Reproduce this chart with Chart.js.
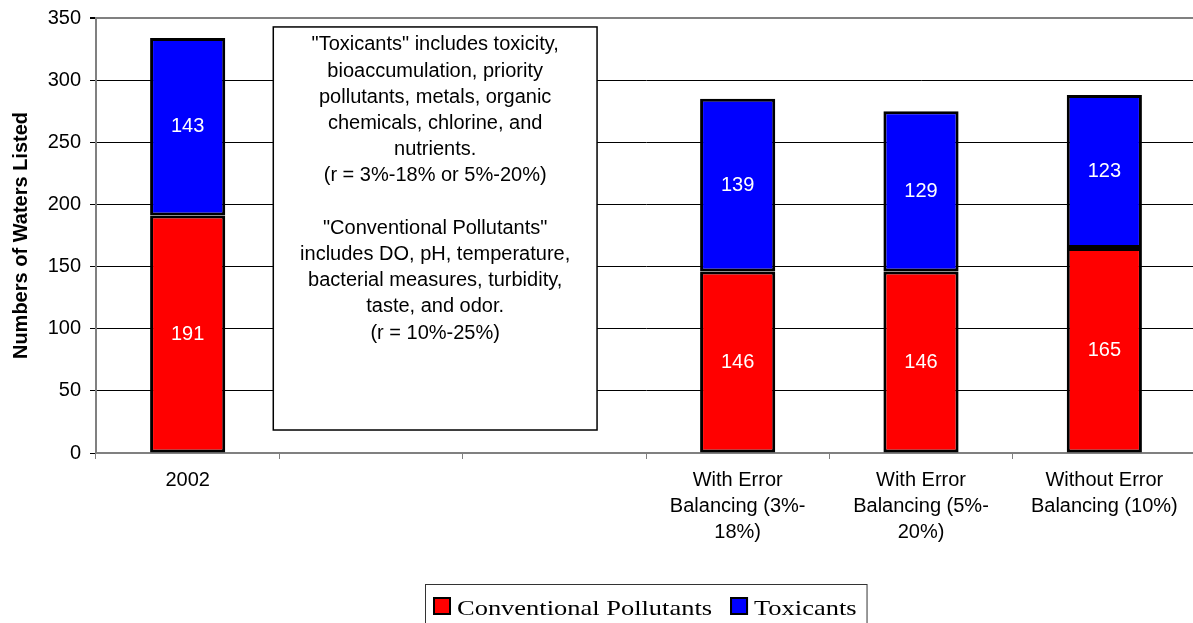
<!DOCTYPE html>
<html><head><meta charset="utf-8">
<script src="https://cdn.jsdelivr.net/npm/chart.js@4/dist/chart.umd.min.js"></script>
<style>html,body{margin:0;padding:0;overflow:hidden;background:#fff}</style>
</head><body>
<canvas id="c" width="1200" height="640" style="display:block"></canvas>
<script>
// ---- data ----
const categories = ['2002', '', '', ['With Error', 'Balancing (3%-', '18%)'], ['With Error', 'Balancing (5%-', '20%)'], ['Without Error', 'Balancing (10%)']];
const conventional = [191, null, null, 146, 146, 165];
const toxicants = [143, null, null, 139, 129, 123];
const seriesNames = ['Conventional Pollutants', 'Toxicants'];
const yMin = 0, yMax = 350, yStep = 50;
const yTitle = 'Numbers of Waters Listed';
const noteLines = [
  '"Toxicants" includes toxicity,',
  'bioaccumulation, priority',
  'pollutants, metals, organic',
  'chemicals, chlorine, and',
  'nutrients.',
  '(r = 3%-18% or 5%-20%)',
  '',
  '"Conventional Pollutants"',
  'includes DO, pH, temperature,',
  'bacterial measures, turbidity,',
  'taste, and odor.',
  '(r = 10%-25%)'
];

const SANS = '"Liberation Sans", Arial, sans-serif';
const SERIF = '"Liberation Serif", "Times New Roman", serif';

const valueLabels = {
  id: 'valueLabels',
  afterDatasetsDraw(chart) {
    const ctx = chart.ctx;
    ctx.save();
    ctx.fillStyle = '#fff';
    ctx.font = '20px ' + SANS;
    ctx.textAlign = 'center';
    ctx.textBaseline = 'middle';
    chart.data.datasets.forEach((ds, i) => {
      chart.getDatasetMeta(i).data.forEach((el, j) => {
        const v = ds.data[j];
        if (v == null) return;
        const c = el.getCenterPoint();
        ctx.fillText(String(v), c.x, c.y);
      });
    });
    ctx.restore();
  }
};

const noteBox = {
  id: 'noteBox',
  afterDatasetsDraw(chart, args, opts) {
    const x = chart.scales.x, y = chart.scales.y, ctx = chart.ctx;
    const l = x.getPixelForValue(opts.x0), r = x.getPixelForValue(opts.x1);
    const t = y.getPixelForValue(opts.y1), b = y.getPixelForValue(opts.y0);
    ctx.save();
    ctx.fillStyle = '#fff';
    ctx.fillRect(l, t, r - l, b - t);
    ctx.strokeStyle = '#000';
    ctx.lineWidth = 1.5;
    ctx.strokeRect(l, t, r - l, b - t);
    ctx.fillStyle = '#000';
    ctx.font = '20px ' + SANS;
    ctx.textAlign = 'center';
    ctx.textBaseline = 'middle';
    const cx = (l + r) / 2;
    opts.lines.forEach((s, i) => ctx.fillText(s, cx, t + 18 + i * 26.2));
    ctx.restore();
  }
};

const boxLegend = {
  id: 'boxLegend',
  afterDraw(chart, args, opts) {
    const ctx = chart.ctx;
    ctx.save();
    ctx.font = '21px ' + SERIF;
    const sx = 1.26;
    const left = opts.left, top = opts.top;
    let xx = left + 8;
    const items = chart.data.datasets.map(ds => ({ label: ds.label, color: ds.backgroundColor }));
    const positions = [];
    items.forEach((it) => {
      const w = ctx.measureText(it.label).width * sx;
      positions.push({ mx: xx, tx: xx + 24, w });
      xx += 24 + w + 18;
    });
    const right = xx - 18 + 10;
    ctx.strokeStyle = '#333';
    ctx.lineWidth = 1;
    ctx.strokeRect(left + 0.5, top + 0.5, right - left, 60);
    items.forEach((it, i) => {
      const p = positions[i];
      ctx.fillStyle = it.color;
      ctx.fillRect(p.mx, top + 13, 18, 18);
      ctx.strokeStyle = '#000';
      ctx.lineWidth = 2;
      ctx.strokeRect(p.mx + 1, top + 14, 16, 16);
      ctx.save();
      ctx.translate(p.tx, top + 31);
      ctx.scale(sx, 1);
      ctx.fillStyle = '#000';
      ctx.textBaseline = 'alphabetic';
      ctx.textAlign = 'left';
      ctx.fillText(it.label, 0, 0);
      ctx.restore();
    });
    ctx.restore();
  }
};

new Chart(document.getElementById('c'), {
  type: 'bar',
  data: {
    labels: categories,
    datasets: [
      { label: seriesNames[0], data: conventional, backgroundColor: '#ff0000', borderColor: '#000', borderWidth: 3, borderSkipped: false, barPercentage: 0.41, categoryPercentage: 1 },
      { label: seriesNames[1], data: toxicants, backgroundColor: '#0000ff', borderColor: '#000', borderWidth: 3, borderSkipped: false, barPercentage: 0.41, categoryPercentage: 1 }
    ]
  },
  options: {
    responsive: false,
    animation: false,
    devicePixelRatio: 1,
    layout: { padding: { top: 18, right: 4, left: 0, bottom: 0 } },
    plugins: {
      legend: { display: false },
      tooltip: { enabled: false },
      noteBox: { x0: 0.467, x1: 2.233, y0: 18.5, y1: 342.8, lines: noteLines },
      boxLegend: { left: 425, top: 584 }
    },
    scales: {
      x: {
        stacked: true,
        offset: true,
        grid: { display: true, drawOnChartArea: false, offset: true, tickLength: 6, color: '#808080', lineWidth: 1 },
        border: { display: true, color: '#808080', width: 2 },
        ticks: { color: '#000', font: { family: SANS, size: 20, lineHeight: 1.3 }, padding: 8, maxRotation: 0, autoSkip: false },
        afterFit(s) { s.height = 187; s.paddingLeft = 0; s.paddingRight = 0; }
      },
      y: {
        stacked: true,
        min: yMin, max: yMax,
        ticks: { stepSize: yStep, color: '#000', font: { family: SANS, size: 20 }, padding: 9 },
        grid: {
          tickLength: 6,
          color: c => (c.tick && (c.tick.value === yMax || c.tick.value === yMin)) ? '#808080' : '#000',
          lineWidth: c => (c.tick && c.tick.value === yMax) ? 2 : 1,
          tickColor: '#000'
        },
        border: { display: true, color: '#808080', width: 2 },
        title: { display: true, text: yTitle, color: '#000', font: { family: SANS, size: 20, weight: 'bold' }, padding: { top: 9, bottom: 0 } },
        afterFit(s) { s.width = 96; s.paddingTop = 0; s.paddingBottom = 0; }
      }
    }
  },
  plugins: [valueLabels, noteBox, boxLegend]
});
</script>
</body></html>
